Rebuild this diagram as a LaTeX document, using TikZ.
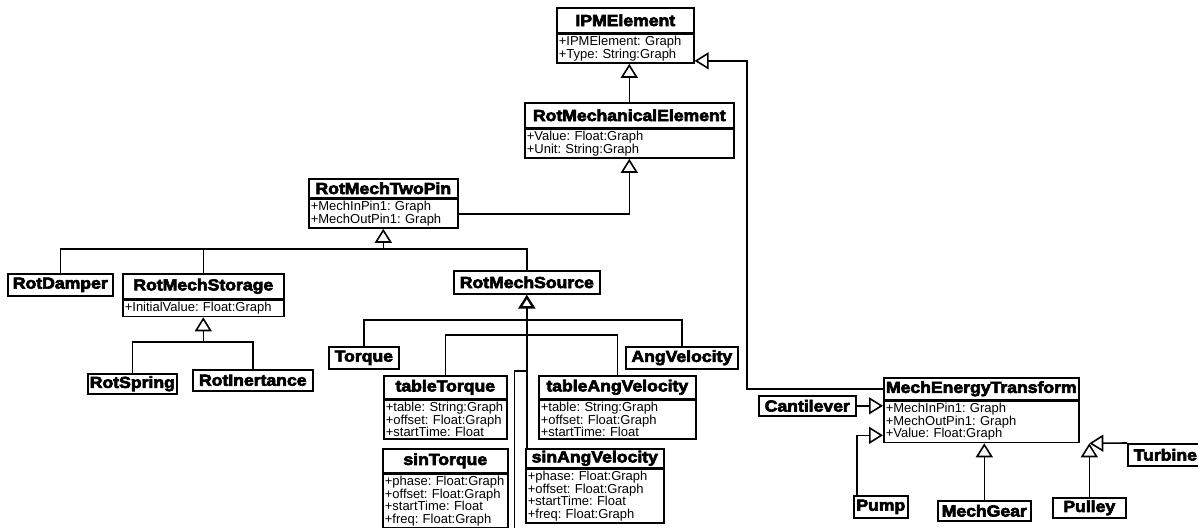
\documentclass[tikz,border=0pt]{standalone}
\usepackage{fontspec}
\setmainfont{Liberation Sans}
\newfontfamily\clsfamily{Liberation Sans Bold}[FakeStretch=1.1,FakeBold=4]
\usetikzlibrary{positioning,arrows.meta}

\begin{document}
\begin{tikzpicture}[
x=1pt,
y=-1pt,
line width=1.6pt,
cls/.style={
draw,
anchor=north west,
minimum width=#1,
minimum height=23pt,
inner sep=2pt,
font=\clsfamily\fontsize{16}{17}\selectfont
},
attr/.style={
draw,
text width=#1,
align=left,
inner xsep=2pt,
inner ysep=2pt,
font=\fontsize{13}{12.5}\selectfont\frenchspacing
},
gen/.style={
-{Triangle[open,length=14pt,width=17pt]}
}
]

\useasboundingbox (0,0) rectangle (1198,527);

\node[cls=137, minimum height=25pt] (ipm) at (556,7) {IPMElement};
\node[attr=133, below=0pt of ipm] (ipmA) {+IPMElement: Graph\\+Type: String:Graph};

\node[cls=209, minimum height=25pt] (rme) at (524,102) {RotMechanicalElement};
\node[attr=205, below=0pt of rme] (rmeA) {+Value: Float:Graph\\+Unit: String:Graph};

\node[cls=149, minimum height=19pt] (rmtp) at (308,178) {RotMechTwoPin};
\node[attr=145, below=0pt of rmtp] (rmtpA) {+MechInPin1: Graph\\+MechOutPin1: Graph};

\node[cls=105, minimum height=22pt] (damper) at (7,273) {RotDamper};

\node[cls=161, minimum height=25pt] (storage) at (122,273) {RotMechStorage};
\node[attr=157, below=0pt of storage] (storageA) {+InitialValue: Float:Graph};

\node[cls=89, minimum height=20pt] (spring) at (87,373) {RotSpring};

\node[cls=120, minimum height=21pt] (inertance) at (192,369) {RotInertance};

\node[cls=146] (source) at (453,270) {RotMechSource};

\node[cls=70, minimum height=22pt] (torque) at (328,346) {Torque};

\node[cls=112, minimum height=22pt] (angvel) at (625,346) {AngVelocity};

\node[cls=123] (tabT) at (383,375) {tableTorque};
\node[attr=119, below=0pt of tabT] (tabTA) {+table: String:Graph\\+offset: Float:Graph\\+startTime: Float};

\node[cls=157] (tabAV) at (538,375) {tableAngVelocity};
\node[attr=153, below=0pt of tabAV] (tabAVA) {+table: String:Graph\\+offset: Float:Graph\\+startTime: Float};

\node[cls=125, minimum height=24pt] (sinT) at (382,448) {sinTorque};
\node[attr=121, below=0pt of sinT] (sinTA) {+phase: Float:Graph\\+offset: Float:Graph\\+startTime: Float\\+freq: Float:Graph};

\node[cls=138, minimum height=19pt] (sinAV) at (525,448) {sinAngVelocity};
\node[attr=134, below=0pt of sinAV] (sinAVA) {+phase: Float:Graph\\+offset: Float:Graph\\+startTime: Float\\+freq: Float:Graph};

\node[cls=195, minimum height=22pt] (mem) at (883,377) {MechEnergyTransform};
\node[attr=191, below=0pt of mem] (memA) {+MechInPin1: Graph\\+MechOutPin1: Graph\\+Value: Float:Graph};

\node[cls=97, minimum height=20pt] (cant) at (758,395) {Cantilever};

\node[cls=54, minimum height=22pt] (pump) at (853,495) {Pump};

\node[cls=93, minimum height=20pt] (gear) at (937,500) {MechGear};

\node[cls=73, minimum height=20pt] (pulley) at (1052,497) {Pulley};

\node[cls=75, minimum height=22pt] (turbine) at (1127,443) {Turbine};

\coordinate (twobus) at (rmtpA.south |- 0,249);
\coordinate (storbus) at (storageA.south |- 0,342);

\draw[gen] (rme.north) -- (rme.north |- ipmA.south);
\draw[gen] (rmtpA.east) -| (rmeA.south);

\draw[gen] (twobus) -- (rmtpA.south);
\draw (damper.north) |- (twobus) -| (source.north);
\draw (storage.north) -- (storage.north |- twobus);

\draw[gen] (storbus) -- (storageA.south);
\draw (spring.north) |- (storbus) -| (inertance.north);

\draw[gen, line width=2.4pt] (source.south |- sinAV.north) -- (source.south);
\draw (torque.north) -- ++(0,-26) -| (angvel.north);
\draw (tabT.north) -- ++(0,-40) -| (tabAV.north);
\draw ([xshift=6pt]sinTA.south east) |- (source.south |- 0,371);

\draw[gen] (mem.west) -- ++(-136,0) |- ([yshift=3pt]ipmA.south east);
\draw[gen] (cant.east) -- (cant.east -| memA.west);
\draw[gen] ([xshift=4pt]pump.north west) |- ([yshift=8pt]memA.south west);
\draw[gen] (gear.north) -- (gear.north |- memA.south);
\draw[gen] (pulley.north) -- (pulley.north |- memA.south);
\draw[gen] (turbine.north west) -- (pulley.north |- memA.south);

\end{tikzpicture}
\end{document}
